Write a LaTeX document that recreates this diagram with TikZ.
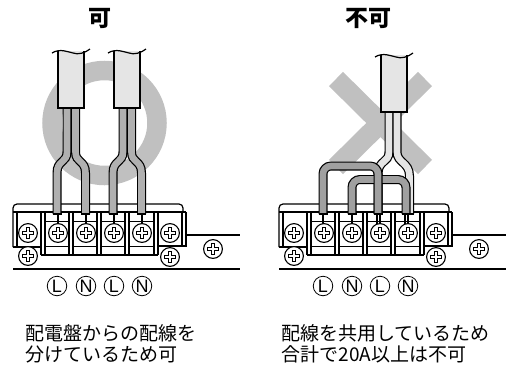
\documentclass[tikz,border=0pt]{standalone}
\usepackage{fontspec}
\setmainfont{Noto Sans CJK JP}
\newfontfamily\latinfont{Liberation Sans}
\usepackage{tikz}
\definecolor{markgray}{RGB}{192,192,192}
\definecolor{jacket}{RGB}{229,229,229}
\definecolor{leadgray}{RGB}{176,176,176}
\definecolor{bridgegray}{RGB}{160,160,160}
\tikzset{
    outline/.style={line width=1.2pt, black},
    leadwire/.style={line width=1.2pt, double=#1, double distance=6.6pt},
    bridge/.style={leadwire=bridgegray, rounded corners=8pt},
    screwhead/.style={circle, draw, line width=1.1pt, fill=white, minimum size=18.8pt, inner sep=0pt},
    phase/.style={circle, draw, line width=0.8pt, minimum size=19.5pt, inner sep=0pt, font=\latinfont\fontsize{18}{18}\selectfont},
    heading/.style={font=\fontsize{23}{23}\selectfont\bfseries},
    caption/.style={anchor=west, align=left, font=\fontsize{19}{21}\selectfont},
    screw/.pic={
        \node[screwhead] (head) at (0,0) {};
        \draw[line width=0.9pt, fill=white] (-1.6,-5.5) -- (1.6,-5.5) -- (1.6,-1.6) -- (5.5,-1.6) -- (5.5,1.6) -- (1.6,1.6)
            -- (1.6,5.5) -- (-1.6,5.5) -- (-1.6,1.6) -- (-5.5,1.6) -- (-5.5,-1.6) -- (-1.6,-1.6) -- cycle;
    },
    termblock/.pic={
        % housing
        \draw[outline, rounded corners=4pt] (13,247) -- (13,204) -- (183,204) -- (183,212);
        \draw[outline] (13,212) -- (186,212);
        \draw[outline] (17,212) -- (17,247);
        \draw[outline] (13,247) -- (41,247);
        \draw[outline] (158,246) -- (186,246) -- (186,212);
        \draw[outline] (182,212) -- (182,246);
        \draw[outline] (41,255) -- (158,255);
        \foreach \bx in {41,69,97,125,154}{
            \draw[outline] (\bx,212) -- (\bx,255);
            \draw[outline] (\bx+4,212) -- (\bx+4,255);
        }
        \foreach \bx in {45,73,101,129}{
            \draw[line width=0.9pt] (\bx,221) -- (\bx+24,221);
            \draw[line width=0.9pt] (\bx,246) -- (\bx+24,246);
        }
        % supply side
        \draw[outline] (186,235) -- (240,235);
        \draw[line width=1.6pt] (13,269) -- (240,269);
    },
    screwrow/.pic={
        \foreach \sx in {28,58,86,114,142,170}{
            \pic at (\sx,233) {screw};
        }
        \pic at (28,256) {screw};
        \pic at (170,257) {screw};
        \pic at (213,249) {screw};
    },
    sheath/.pic={
        \fill[jacket] (0,1) rectangle (26,58);
        \draw[outline] (0,1) -- (0,58) -- (26,58) -- (26,1);
        \draw[outline] (-6,3) .. controls (2,-2) and (10,2) .. (15,3) .. controls (20,5) and (27,3) .. (32,-1);
    },
    drop/.pic={
        % conductor under a lead
        \draw[line width=1.2pt] (0,214) -- (0,225);
    },
    leadpair/.pic={
        \draw[leadwire=leadgray] (67,106) -- (67,152) .. controls (67,163) and (57,160) .. (57,173) -- (57,214);
        \draw[leadwire=leadgray] (75.5,106) -- (75.5,152) .. controls (75.5,163) and (85.5,160) .. (85.5,173) -- (85.5,214);
        \draw[outline] (52.5,214) -- (61.5,214);
        \draw[outline] (81,214) -- (90,214);
        \pic at (58,0) {drop};
        \pic at (86,0) {drop};
        \pic at (58,50) {sheath};
    },
}
\begin{document}
\begin{tikzpicture}[x=1pt, y=-1pt]
    \useasboundingbox (0,0) rectangle (509,365);

    \node[heading] (oktitle) at (100,18) {可};
    \node[heading] (ngtitle) at (368,18) {不可};

    % ok mark and no mark
    \draw[markgray, line width=19.5pt] (104.5,123) circle (52.5);
    \draw[markgray, line width=20pt] (336,79) -- (425,167);
    \draw[markgray, line width=20pt] (425,79) -- (336,167);

    % left side
    \pic at (0,0) {termblock};
    \pic at (0,0) {leadpair};
    \pic at (56,0) {leadpair};
    \pic at (0,0) {screwrow};

    % right side
    \pic at (266,0) {termblock};
    \foreach \dx in {323,352,377,380,405,408}{
        \pic at (\dx,0) {drop};
    }
    \draw[leadwire=jacket] (389,110) -- (389,152) .. controls (389,163) and (378,160) .. (378,174) -- (378,214);
    \draw[leadwire=jacket] (397,110) -- (397,152) .. controls (397,163) and (409.5,162) .. (409.5,176) -- (409.5,214);
    \pic at (381,54) {sheath};
    \draw[bridge] (352,214) -- (352,179.5) -- (406,179.5) -- (406,214);
    \draw[bridge] (323,214) -- (323,166) -- (378,166) -- (378,214);
    \draw[outline] (318.5,214) -- (327.5,214);
    \draw[outline] (347.5,214) -- (356.5,214);
    \draw[outline] (373.5,214) -- (382.5,214);
    \draw[outline] (401.5,214) -- (414,214);
    \pic at (266,0) {screwrow};

    % phase marks
    \node[phase] (la) at (57,286) {L};
    \node[phase] (na) at (86,286) {N};
    \node[phase] (lb) at (114,286) {L};
    \node[phase] (nb) at (142,286) {N};
    \node[phase] (lc) at (323,286) {L};
    \node[phase] (nc) at (352,286) {N};
    \node[phase] (ld) at (380,286) {L};
    \node[phase] (nd) at (408,286) {N};

    \node[caption] (okcaption) at (22,344) {配電盤からの配線を\\分けているため可};
    \node[caption] (ngcaption) at (278,344) {配線を共用しているため\\合計で20A以上は不可};
\end{tikzpicture}
\end{document}
